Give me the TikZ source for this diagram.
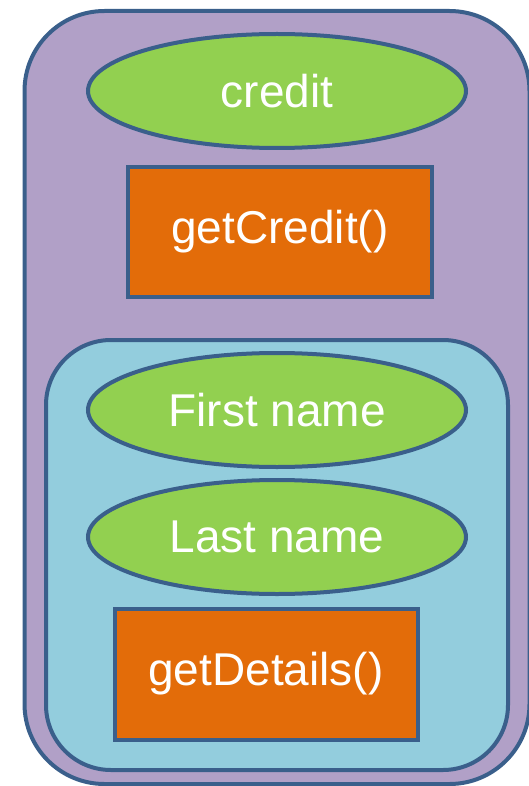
\documentclass[tikz,border=0pt]{standalone}
\usepackage{fontspec}
\setmainfont{Liberation Sans}
\usetikzlibrary{shapes.geometric}
\definecolor{edgeblue}{HTML}{3A5F8B}
\definecolor{lav}{HTML}{B1A0C7}
\definecolor{attrgreen}{HTML}{92D050}
\definecolor{methorange}{HTML}{E36C09}
\definecolor{innerblue}{HTML}{93CDDD}
\tikzset{
  lbl/.style={text=white, font=\fontsize{46}{50}\selectfont, inner sep=0pt},
  attr/.style={ellipse, draw=edgeblue, fill=attrgreen, line width=4pt, minimum width=378pt, minimum height=114pt, lbl},
  method/.style={rectangle, draw=edgeblue, fill=methorange, line width=4pt, lbl},
  cont/.style={rectangle, draw=edgeblue, line width=4pt, inner sep=0pt},
}
\begin{document}
\begin{tikzpicture}[x=1pt,y=-1pt]
\useasboundingbox (0,0) rectangle (529,786);
\node[cont, fill=lav, rounded corners=80pt, minimum width=505pt, minimum height=773pt] (outer) at (277,397.5) {};
\node[cont, fill=innerblue, rounded corners=65pt, minimum width=462pt, minimum height=430pt] (inner) at (277,555) {};
\node[attr] (credit) at (277,91) {credit};
\node[method, minimum width=304pt, minimum height=129pt] (getcredit) at (280,232) {getCredit()};
\node[attr] (first) at (277,410) {First name};
\node[attr] (last) at (277,537) {Last name};
\node[method, minimum width=303pt, minimum height=131pt] (getdetails) at (266,674) {getDetails()};
\end{tikzpicture}
\end{document}
